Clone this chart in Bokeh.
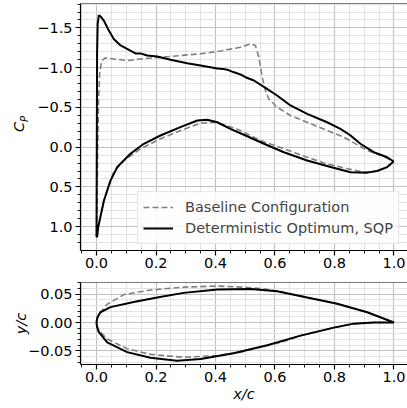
from bokeh.plotting import figure
from bokeh.models import Range1d, FixedTicker, Span, Legend, LegendItem, LinearAxis
from bokeh.layouts import column
from bokeh.embed import file_html
from bokeh.resources import INLINE

# ---------------- data ----------------
# Pressure coefficient, deterministic optimum (SQP)
x_up_opt = [0.0, 0.001, 0.002, 0.004, 0.008, 0.015, 0.025, 0.041, 0.058, 0.081, 0.109, 0.131, 0.148,
            0.170, 0.204, 0.249, 0.305, 0.350, 0.406, 0.425, 0.439, 0.46, 0.484, 0.501, 0.529, 0.568, 0.607,
            0.652, 0.708, 0.775, 0.820, 0.854, 0.887, 0.932, 0.977, 0.999]
cp_up_opt = [1.12, 0.0, -1.2, -1.55, -1.66, -1.64, -1.59, -1.47, -1.36, -1.28, -1.225, -1.18, -1.18,
             -1.153, -1.14, -1.10, -1.057, -1.028, -0.99, -0.985, -0.975, -0.945, -0.915, -0.88, -0.839, -0.747,
             -0.65, -0.525, -0.42, -0.314, -0.231, -0.147, -0.043, 0.063, 0.126, 0.18]
x_lo_opt = [0.0, 0.002, 0.006, 0.013, 0.025, 0.047, 0.070, 0.114, 0.159, 0.215, 0.282, 0.339, 0.372,
            0.406, 0.45, 0.501, 0.563, 0.63, 0.708, 0.787, 0.854, 0.91, 0.943, 0.977, 0.999]
cp_lo_opt = [1.12, 1.13, 1.0, 0.88, 0.67, 0.42, 0.25, 0.083, -0.043, -0.147, -0.252, -0.336, -0.345,
             -0.314, -0.231, -0.147, -0.043, 0.063, 0.167, 0.25, 0.314, 0.32, 0.30, 0.25, 0.18]

# Pressure coefficient, baseline configuration
x_up_base = [0.0, 0.002, 0.004, 0.007, 0.011, 0.018, 0.03, 0.058, 0.103, 0.148, 0.215, 0.282, 0.35,
             0.417, 0.484, 0.518, 0.534, 0.546, 0.557, 0.568, 0.579, 0.607, 0.652, 0.708, 0.775, 0.831,
             0.887, 0.91, 0.955, 0.999]
cp_up_base = [1.12, 0.8, 0.0, -0.6, -0.95, -1.09, -1.125, -1.11, -1.09, -1.11, -1.13, -1.153, -1.175,
              -1.21, -1.258, -1.30, -1.28, -1.13, -0.88, -0.713, -0.609, -0.503, -0.399, -0.314, -0.21, -0.126,
              -0.009, 0.04, 0.10, 0.18]
x_lo_base = [0.0, 0.002, 0.006, 0.013, 0.025, 0.047, 0.058, 0.092, 0.148, 0.215, 0.282, 0.35, 0.394,
             0.428, 0.484, 0.551, 0.63, 0.708, 0.775, 0.843, 0.898, 0.943, 0.977, 0.999]
cp_lo_base = [1.12, 1.12, 1.0, 0.88, 0.67, 0.42, 0.31, 0.167, 0.02, -0.105, -0.21, -0.302, -0.314,
              -0.285, -0.21, -0.084, 0.02, 0.126, 0.21, 0.27, 0.314, 0.30, 0.25, 0.18]

# Airfoil geometry, optimum
xs_up_opt = [0.0, 0.003, 0.013, 0.047, 0.125, 0.204, 0.293, 0.406, 0.518, 0.607, 0.708, 0.809, 0.91, 1.0]
ys_up_opt = [0.0, 0.009, 0.018, 0.027, 0.036, 0.044, 0.052, 0.058, 0.059, 0.055, 0.044, 0.033, 0.018, 0.0]
xs_lo_opt = [0.0, 0.002, 0.008, 0.036, 0.103, 0.181, 0.271, 0.35, 0.461, 0.574, 0.686, 0.798, 0.865, 0.932, 1.0]
ys_lo_opt = [0.0, -0.008, -0.017, -0.035, -0.052, -0.062, -0.067, -0.064, -0.054, -0.040, -0.023, -0.009,
             -0.002, 0.0, 0.0]

# Airfoil geometry, baseline
xs_up_base = [0.0, 0.003, 0.008, 0.036, 0.092, 0.181, 0.293, 0.406, 0.495, 0.56, 0.62, 0.708, 0.809, 0.91, 1.0]
ys_up_base = [0.0, 0.008, 0.014, 0.032, 0.049, 0.057, 0.062, 0.064, 0.062, 0.059, 0.054, 0.044, 0.033, 0.018, 0.0]
xs_lo_base = [0.0, 0.003, 0.008, 0.036, 0.103, 0.181, 0.293, 0.406, 0.484, 0.56, 0.62, 0.686, 0.798, 0.865, 0.932, 1.0]
ys_lo_base = [0.0, -0.008, -0.014, -0.029, -0.046, -0.056, -0.061, -0.058, -0.052, -0.042, -0.035, -0.023,
              -0.009, -0.002, 0.0, 0.0]

x_ticks = [0.0, 0.2, 0.4, 0.6, 0.8, 1.0]
x_tick_labels = ["0.0", "0.2", "0.4", "0.6", "0.8", "1.0"]
cp_ticks = [-1.5, -1.0, -0.5, 0.0, 0.5, 1.0]
cp_tick_labels = ["\u22121.5", "\u22121.0", "\u22120.5", "0.0", "0.5", "1.0"]
yc_ticks = [-0.05, 0.0, 0.05]
yc_tick_labels = ["\u22120.05", "0.00", "0.05"]

legend_labels = ["Baseline Configuration", "Deterministic Optimum, SQP"]

# ---------------- styling ----------------
FONT = "DejaVu Sans"
FS = "14.5px"
BASE_COLOR = "#808080"
OPT_COLOR = "black"

x_minor = [round(-0.05 + 0.05 * i, 3) for i in range(23)]
cp_minor = [round(-1.9 + 0.1 * i, 3) for i in range(34)]
yc_minor = [round(-0.08 + 0.01 * i, 3) for i in range(17)]


def style(p, xt, xtl, xmin, yt, ytl, ymin, top):
    p.xaxis.ticker = FixedTicker(ticks=xt, minor_ticks=xmin)
    p.yaxis.ticker = FixedTicker(ticks=yt, minor_ticks=ymin)
    p.xaxis.major_label_overrides = {t: s for t, s in zip(xt, xtl)}
    p.yaxis.major_label_overrides = {t: s for t, s in zip(yt, ytl)}
    for ax in (p.xaxis, p.yaxis):
        ax.major_label_text_font = FONT
        ax.major_label_text_font_size = FS
        ax.major_label_text_color = "black"
        ax.axis_line_color = "black"
        ax.axis_line_width = 1.2
        ax.major_tick_line_color = "black"
        ax.minor_tick_line_color = "black"
        ax.major_tick_line_width = 1.2
        ax.minor_tick_line_width = 0.9
        ax.major_tick_out = 5
        ax.major_tick_in = 0
        ax.minor_tick_out = 3
        ax.minor_tick_in = 0
        ax.axis_label_text_font = FONT
        ax.axis_label_text_font_style = "italic"
        ax.axis_label_text_font_size = FS
        ax.axis_label_text_color = "black"
    p.xaxis.major_label_standoff = 2
    p.yaxis.major_label_standoff = 3
    for g in (p.xgrid, p.ygrid):
        g.grid_line_color = "#c2c2c2"
        g.grid_line_width = 1.2
        g.minor_grid_line_color = "#e2e2e2"
        g.minor_grid_line_width = 1.0
    p.outline_line_color = None
    p.add_layout(Span(location=top, dimension="width", line_color="black", line_width=1.2))


def path(xl, yl, xu, yu):
    return list(reversed(xl)) + list(xu), list(reversed(yl)) + list(yu)


# ---------------- top: Cp ----------------
CP_TOP = -1.8075
p1 = figure(frame_width=327, frame_height=247, min_border_left=80, min_border_right=0,
            min_border_top=3, min_border_bottom=24,
            x_range=Range1d(-0.0538, 1.0454), y_range=Range1d(1.2994, CP_TOP),
            output_backend="svg", toolbar_location=None)
style(p1, x_ticks, x_tick_labels, x_minor, cp_ticks, cp_tick_labels, cp_minor, CP_TOP)

bx, by = path(x_lo_base, cp_lo_base, x_up_base, cp_up_base)
ox, oy = path(x_lo_opt, cp_lo_opt, x_up_opt, cp_up_opt)
r_base = p1.line(bx, by, line_color=BASE_COLOR, line_width=1.6, line_dash="6 3")
r_opt = p1.line(ox, oy, line_color=OPT_COLOR, line_width=2.0)

legend = Legend(items=[LegendItem(label=legend_labels[0], renderers=[r_base]),
                       LegendItem(label=legend_labels[1], renderers=[r_opt])],
                location=(57, 6), label_text_font=FONT, label_text_font_size=FS,
                glyph_width=30, glyph_height=20, label_height=20, label_standoff=12,
                padding=5, spacing=1, margin=0, background_fill_alpha=0.8,
                border_line_color="#d0d0d0", border_line_width=1)
p1.add_layout(legend)

# C_P label: subscript "P" on the main axis, "C" on an extra tick-less axis further out
p1.yaxis.axis_label = "\u00a0" * 5 + "P"
p1.yaxis.axis_label_text_font_size = "10px"
p1.yaxis.axis_label_standoff = 4
c_axis = LinearAxis(ticker=FixedTicker(ticks=[]), axis_line_color=None,
                    major_tick_line_color=None, minor_tick_line_color=None,
                    major_label_text_font_size="0px", axis_label="C",
                    axis_label_text_font=FONT, axis_label_text_font_style="italic",
                    axis_label_text_font_size=FS, axis_label_text_color="black",
                    axis_label_standoff=-10)
p1.add_layout(c_axis, "left")

# ---------------- bottom: geometry ----------------
YC_TOP = 0.0702
p2 = figure(frame_width=327, frame_height=82, min_border_left=80, min_border_right=0,
            min_border_top=8, min_border_bottom=40,
            x_range=Range1d(-0.0538, 1.0454), y_range=Range1d(-0.0737, YC_TOP),
            output_backend="svg", toolbar_location=None)
style(p2, x_ticks, x_tick_labels, x_minor, yc_ticks, yc_tick_labels, yc_minor, YC_TOP)

gbx, gby = path(xs_lo_base, ys_lo_base, xs_up_base, ys_up_base)
gox, goy = path(xs_lo_opt, ys_lo_opt, xs_up_opt, ys_up_opt)
p2.line(gbx, gby, line_color=BASE_COLOR, line_width=1.6, line_dash="6 3")
p2.line(gox, goy, line_color=OPT_COLOR, line_width=2.0)

p2.yaxis.axis_label = "y/c"
p2.yaxis.axis_label_standoff = -4
p2.xaxis.axis_label = "x/c"
p2.xaxis.axis_label_standoff = 1

layout = column(p1, p2, spacing=0)
open("out.html", "w").write(file_html(layout, INLINE))
